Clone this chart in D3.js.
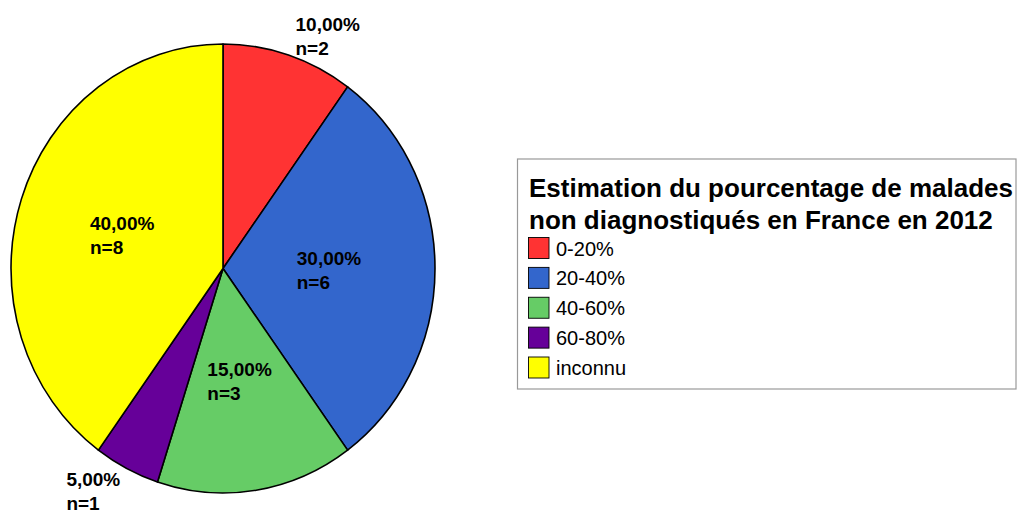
<!DOCTYPE html>
<html>
<head>
<meta charset="utf-8">
<script src="https://cdn.jsdelivr.net/npm/d3@7"></script>
<style>
  html, body { margin: 0; padding: 0; background: #fff; }
  svg { display: block; font-family: "Liberation Sans", Arial, sans-serif; }
</style>
</head>
<body>
<svg id="chart" width="1020" height="512"></svg>
<script>
const categories = ["0-20%", "20-40%", "40-60%", "60-80%", "inconnu"];
const counts = [2, 6, 3, 1, 8];
const percentLabels = ["10,00%", "30,00%", "15,00%", "5,00%", "40,00%"];
const colors = ["#FF3333", "#3366CC", "#66CC66", "#660099", "#FFFF00"];
const legendTitle = ["Estimation du pourcentage de malades", "non diagnostiqués en France en 2012"];

const svg = d3.select("#chart");
const cx = 223, cy = 268.5, rx = 212, ry = 224.5;
const sy = ry / rx;

const pie = d3.pie().sort(null).value(d => d)(counts);
const arc = d3.arc().innerRadius(0).outerRadius(rx);

const g = svg.append("g").attr("transform", `translate(${cx},${cy}) scale(1,${sy})`);
g.selectAll("path.slice").data(pie).join("path")
  .attr("class", "slice")
  .attr("d", arc)
  .attr("fill", (d, i) => colors[i])
  .attr("stroke", "#000")
  .attr("stroke-width", 1.6)
  .attr("stroke-linejoin", "round")
  .attr("vector-effect", "non-scaling-stroke");

// labels
const labels = svg.append("g").attr("font-weight", "bold").attr("font-size", 19).attr("fill", "#000");
pie.forEach((d, i) => {
  const mid = (d.startAngle + d.endAngle) / 2;
  const sx = Math.sin(mid), syy = -Math.cos(mid);
  const frac = d.value / d3.sum(counts);
  const lg = labels.append("g");
  const t1 = lg.append("text").text(percentLabels[i]);
  const t2 = lg.append("text").text("n=" + d.value);
  if (frac >= 0.12) {
    const r = rx * 0.5;
    const px = cx + r * sx, py = cy + r * syy * sy;
    const w = t1.node().getComputedTextLength();
    const x0 = px - w / 2;
    t1.attr("x", x0).attr("y", py - 3.5);
    t2.attr("x", x0).attr("y", py + 20.5);
  } else {
    const px = cx + rx * sx, py = cy + rx * syy * sy;
    const anchor = sx >= 0 ? "start" : "end";
    const x0 = sx >= 0 ? px + 7 : px - 6.5;
    t1.attr("text-anchor", anchor).attr("x", x0);
    t2.attr("text-anchor", "start");
    const w = t1.node().getComputedTextLength();
    const leftX = sx >= 0 ? x0 : x0 - w;
    t2.attr("x", leftX);
    if (syy < 0) {
      t1.attr("y", py - 24);
      t2.attr("y", py);
    } else {
      t1.attr("y", py + 17.5);
      t2.attr("y", py + 41.5);
    }
  }
});

// legend
const lx = 517.5, ly = 159, lw = 498.5, lh = 230;
const leg = svg.append("g");
leg.append("rect").attr("x", lx).attr("y", ly).attr("width", lw).attr("height", lh)
  .attr("fill", "#fff").attr("stroke", "#999").attr("stroke-width", 1.2);
leg.selectAll("text.title").data(legendTitle).join("text")
  .attr("class", "title")
  .attr("x", 529).attr("y", (d, i) => 197 + i * 32)
  .attr("font-size", 26).attr("font-weight", "bold").attr("fill", "#000")
  .text(d => d);
const ys = d3.scalePoint().domain(categories).range([237.5, 357]);
const items = leg.selectAll("g.item").data(categories).join("g").attr("class", "item")
  .attr("transform", d => `translate(528.5,${ys(d)})`);
items.append("rect").attr("width", 20.5).attr("height", 21)
  .attr("fill", (d, i) => colors[i]).attr("stroke", "#000").attr("stroke-width", 0.9);
items.append("text").attr("x", 27.5).attr("y", 18).attr("font-size", 20).attr("fill", "#000").text(d => d);
</script>
</body>
</html>
